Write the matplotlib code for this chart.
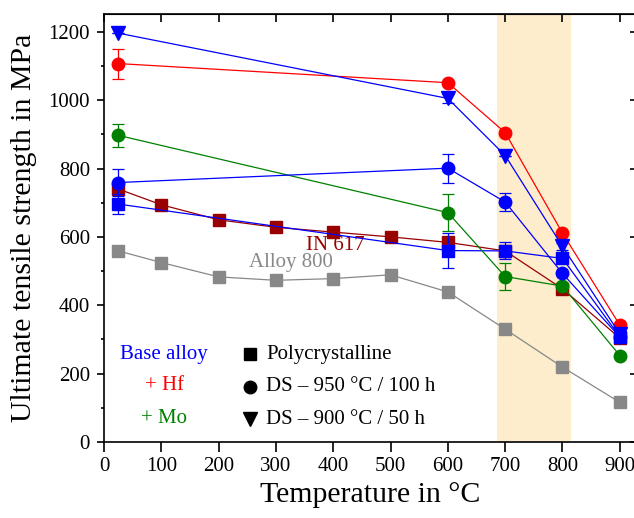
import numpy as np
import matplotlib.pyplot as plt

plt.rcParams['font.family'] = ['Liberation Serif', 'DejaVu Serif']

# data (MPa)
T = [25, 600, 700, 800, 900]
base_poly = [696, 560, 559, 537, 308]
base_poly_err = [30, 50, 25, 0, 8]
base_ds950 = [759, 801, 702, 493, 307]
base_ds950_err = [40, 42, 26, 0, 0]
base_ds900 = [1196, 1005, 838, 572, 316]
base_ds900_err = [0, 12, 0, 10, 10]
hf_ds950 = [1107, 1051, 905, 611, 342]
hf_ds950_err = [44, 0, 8, 0, 0]
mo_ds950 = [897, 671, 484, 456, 253]
mo_ds950_err = [33, 53, 40, 0, 0]

T_ref = [25, 100, 200, 300, 400, 500, 600, 700, 800, 900]
in617 = [740, 694, 650, 628, 614, 600, 584, 559, 448, 304]
alloy800 = [559, 525, 483, 473, 478, 489, 439, 330, 219, 116]

fig = plt.figure(figsize=(6.34, 5.18), dpi=100)
ax = fig.add_axes([104/634, 76/518, 533/634, 428/518])

ax.axvspan(685, 815, color='#fdedcc', zorder=0, lw=0)

ax.plot(T_ref, alloy800, '-s', color='#888888', lw=0.9, ms=8, zorder=2)
ax.plot(T_ref, in617, '-s', color='#990000', lw=0.9, ms=8, zorder=3)

def series(y, err, col, mk, ms):
    ax.errorbar(T, y, yerr=err, color=col, marker=mk, ms=ms, lw=0.9,
                elinewidth=0.9, capsize=4, capthick=0.9, zorder=4)

series(base_poly, base_poly_err, '#0000ff', 's', 8)
series(mo_ds950, mo_ds950_err, '#008000', 'o', 9)
series(base_ds950, base_ds950_err, '#0000ff', 'o', 9)
series(hf_ds950, hf_ds950_err, '#ff0000', 'o', 9)
series(base_ds900, base_ds900_err, '#0000ff', 'v', 10)

ax.text(403, 576, 'IN 617', color='#990000', fontsize=15, ha='center', va='center')
ax.text(326, 524, 'Alloy 800', color='#888888', fontsize=15, ha='center', va='center')

# legend drawn as text
ax.text(105, 256, 'Base alloy', color='#0000ff', fontsize=15, ha='center', va='center')
ax.text(105, 164, '+ Hf', color='#ff0000', fontsize=15, ha='center', va='center')
ax.text(105, 70, '+ Mo', color='#008000', fontsize=15, ha='center', va='center')
ax.plot([254], [256], 's', color='black', ms=8)
ax.plot([254], [162], 'o', color='black', ms=9)
ax.plot([254], [67], 'v', color='black', ms=10)
ax.text(283, 256, 'Polycrystalline', fontsize=15, va='center')
ax.text(283, 162, 'DS – 950 °C / 100 h', fontsize=15, va='center')
ax.text(283, 67, 'DS – 900 °C / 50 h', fontsize=15, va='center')

ax.set_xlim(0, 930)
ax.set_ylim(0, 1252)
ax.set_xticks(range(0, 1000, 100))
ax.set_yticks(range(0, 1400, 200))
ax.set_yticks(range(100, 1300, 200), minor=True)
ax.tick_params(axis='both', labelsize=15, width=1.2)
ax.tick_params(axis='x', which='major', direction='out', length=7, pad=4)
ax.tick_params(axis='y', which='major', direction='out', length=5, pad=5)
ax.tick_params(axis='y', which='minor', direction='out', length=2.5, width=1.2)
for s in ax.spines.values():
    s.set_linewidth(1.2)

top = ax.secondary_xaxis('top')
top.set_xticks(range(0, 1000, 100))
top.tick_params(direction='in', length=6, width=1.2, labeltop=False)
right = ax.secondary_yaxis('right')
right.set_yticks(range(0, 1400, 200))
right.set_yticks(range(100, 1300, 200), minor=True)
right.tick_params(which='major', direction='in', length=5, width=1.2, labelright=False)
right.tick_params(which='minor', direction='in', length=2.5, width=1.2)

ax.set_xlabel('Temperature in °C', fontsize=21.5, labelpad=4)
ax.set_ylabel('Ultimate tensile strength in MPa', fontsize=21.5, labelpad=8)

fig.savefig('out.png', dpi=100)
